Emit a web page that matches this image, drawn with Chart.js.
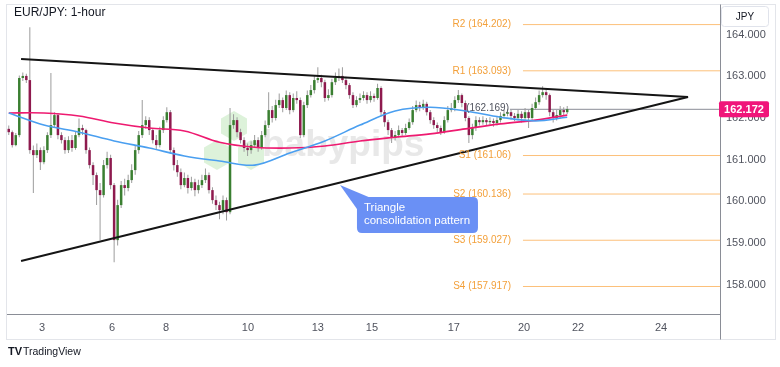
<!DOCTYPE html>
<html><head><meta charset="utf-8">
<script src="https://cdn.jsdelivr.net/npm/chart.js@4.4.1/dist/chart.umd.min.js"></script>
<style>html,body{margin:0;padding:0;background:#fff;}</style>
</head><body>
<canvas id="c" width="780" height="367"></canvas>
<script>
// ---- data ----
const tickIdx = [9.47, 29.4, 44.8, 68.1, 88.0, 103.4, 126.7, 146.7, 162.1, 185.7];
const tickLabels = ['3','6','8','10','13','15','17','20','22','24'];
const yTicks = [158,159,160,161,162,163,164];
const firstOpen = 161.70;
const closes = [
161.62,161.31,161.55,162.92,162.97,162.87,161.19,161.07,161.19,160.90,
161.19,161.55,161.79,162.03,161.55,161.43,161.19,161.43,161.24,161.55,
161.72,161.67,161.19,160.83,160.59,160.23,160.11,160.83,161.00,160.35,
159.03,159.87,160.35,160.28,160.47,160.71,161.19,161.55,161.79,161.91,
161.67,161.43,161.31,161.67,161.91,162.10,161.19,160.83,160.66,160.35,
160.52,160.28,160.42,160.23,160.35,160.47,160.59,160.23,159.99,159.87,
159.75,159.99,159.70,161.79,161.91,161.62,161.43,161.24,161.19,161.31,
161.43,161.24,161.55,161.79,162.15,161.96,162.27,162.39,162.20,162.51,
162.15,162.44,162.39,161.55,162.27,162.51,162.63,162.87,162.92,162.82,
162.44,162.51,162.82,162.92,162.97,162.87,162.75,162.51,162.27,162.39,
162.44,162.51,162.39,162.49,162.44,162.68,162.10,161.86,161.67,161.48,
161.55,161.67,161.60,161.72,161.86,162.15,162.27,162.20,162.30,162.10,
161.91,161.79,161.72,161.62,161.91,162.15,162.20,162.39,162.51,162.32,
161.96,161.55,161.72,161.91,161.86,161.91,161.86,161.89,161.84,161.91,
162.01,162.06,162.10,162.01,161.96,162.06,161.96,162.10,161.96,162.20,
162.34,162.51,162.58,162.51,162.10,161.96,162.03,162.15,162.10,162.172];
const highs = [
161.78,161.66,161.60,162.98,163.05,163.02,164.14,161.30,161.35,161.25,
161.28,161.62,163.04,162.10,162.08,161.62,161.50,161.52,161.55,161.65,
161.95,161.80,161.70,161.25,160.90,160.65,160.40,160.95,161.15,161.08,
160.40,160.00,160.45,160.50,160.60,160.85,161.30,161.65,162.39,162.00,
161.98,161.72,161.55,161.75,162.00,162.22,162.15,161.25,160.95,160.75,
160.65,160.60,160.55,160.50,160.48,160.60,160.75,160.65,160.30,160.10,
159.95,160.10,160.05,162.20,162.05,161.98,161.70,161.50,161.35,161.40,
161.55,161.50,161.65,161.90,162.58,162.25,162.40,162.55,162.45,162.62,
162.58,162.55,162.60,162.45,162.35,162.62,162.75,162.98,163.18,163.00,
162.88,162.65,162.90,163.05,163.15,163.18,162.95,162.80,162.58,162.48,
162.55,162.60,162.58,162.60,162.55,162.78,162.72,162.15,161.92,161.72,
161.65,161.78,161.72,161.82,161.95,162.25,162.38,162.35,162.40,162.35,
162.15,161.98,161.85,161.78,162.00,162.25,162.32,162.48,162.63,162.55,
162.38,162.00,161.82,162.00,161.98,162.00,161.96,161.98,161.95,162.00,
162.10,162.15,162.18,162.15,162.08,162.15,162.12,162.20,162.15,162.30,
162.45,162.62,162.72,162.65,162.55,162.15,162.15,162.25,162.22,162.25];
const lows = [
161.55,161.25,161.28,161.50,162.85,162.80,161.10,160.16,161.00,160.71,
160.85,161.12,161.48,161.72,161.45,161.35,161.10,161.12,161.15,161.20,
161.50,161.55,161.10,160.75,160.35,159.87,159.03,160.05,160.75,160.25,
158.50,158.90,159.80,160.10,160.20,160.40,160.60,161.10,161.48,161.70,
161.55,161.35,161.20,161.25,161.60,161.85,161.10,160.70,160.55,160.25,
160.30,160.15,160.22,160.08,160.15,160.28,160.40,160.15,159.90,159.75,
159.53,159.65,159.50,159.65,161.70,161.50,161.35,161.15,161.05,161.10,
161.25,161.15,161.20,161.50,161.72,161.85,161.90,162.20,162.10,162.15,
162.05,162.10,162.30,161.48,161.50,162.20,162.45,162.55,162.80,162.70,
162.35,162.38,162.45,162.75,162.85,162.80,162.65,162.42,162.20,162.22,
162.32,162.38,162.30,162.33,162.35,162.40,162.00,161.75,161.55,161.36,
161.42,161.50,161.52,161.55,161.68,161.80,162.10,162.12,162.15,162.02,
161.82,161.70,161.62,161.55,161.58,161.85,162.10,162.12,162.32,162.22,
161.88,161.36,161.45,161.65,161.78,161.80,161.78,161.80,161.75,161.78,
161.85,161.95,162.00,161.92,161.88,161.90,161.85,161.90,161.72,161.90,
162.15,162.28,162.45,162.40,162.00,161.85,161.90,161.95,162.02,162.05];
const maIndex = [0,10,20,30,40,50,60,70,80,90,100,110,120,130,140,150,159];
const ma100 = [162.08,161.79,161.62,161.41,161.24,161.05,160.93,160.83,161.12,161.41,161.79,162.13,162.22,162.13,161.98,161.89,161.98];
const ma200 = [162.08,162.08,162.01,161.84,161.72,161.65,161.38,161.26,161.24,161.29,161.41,161.50,161.58,161.70,161.82,161.91,162.03];
const pivotNames = ['R2','R1','S1','S2','S3','S4'];
const pivotValues = [164.202,163.093,161.06,160.136,159.027,157.917];
const pivotStart = 146.4;
const axisEnd = 202.5;
const triX = [3.5, 193.4];
const triUpper = [163.376, 162.464];
const triLower = [158.528, 162.464];
const hLineValue = 162.169;
const hLineStart = 142.7;
const lastPrice = 162.172;
const calloutAnchor = {x: 94.3, y: 160.352};
const calloutLines = ['Triangle', 'consolidation pattern'];

// ---- derived for library ----
const opens = closes.map((c,i)=> i===0 ? firstOpen : closes[i-1]);
const UP='#3a7f31', DOWN='#8e1a4e';
const wickData = closes.map((c,i)=>({x:i, y:[lows[i], highs[i]]}));
const bodyData = closes.map((c,i)=>({x:i, y:[Math.min(opens[i],c), Math.max(opens[i],c)]}));
const bodyColors = closes.map((c,i)=> c>=opens[i] ? UP : DOWN);
const FONT = '"Liberation Sans", Arial, sans-serif';

const datasets = [
  {type:'bar', data:wickData, backgroundColor:'#9c9c9c', maxBarThickness:1, grouped:false, order:5, borderWidth:0},
  {type:'bar', data:bodyData, backgroundColor:bodyColors, maxBarThickness:2.5, grouped:false, order:4, borderWidth:0, minBarLength:1},
  {type:'line', data:maIndex.map((x,i)=>({x, y:ma100[i]})), borderColor:'#4a9ff0', borderWidth:1.6, pointRadius:0, tension:0.35, order:3},
  {type:'line', data:maIndex.map((x,i)=>({x, y:ma200[i]})), borderColor:'#ee1a70', borderWidth:1.6, pointRadius:0, tension:0.35, order:3},
  {type:'line', data:triX.map((x,i)=>({x, y:triUpper[i]})), borderColor:'#151515', borderWidth:2, pointRadius:0, order:1},
  {type:'line', data:triX.map((x,i)=>({x, y:triLower[i]})), borderColor:'#151515', borderWidth:2, pointRadius:0, order:1},
  {type:'line', data:[{x:hLineStart,y:hLineValue},{x:axisEnd,y:hLineValue}], borderColor:'#8a8d96', borderWidth:1, pointRadius:0, order:6}
];
pivotValues.forEach(v=>{
  datasets.push({type:'line', data:[{x:pivotStart,y:v},{x:axisEnd,y:v}], borderColor:'#fcc07a', borderWidth:1, pointRadius:0, order:7});
});

function hex(ctx, cx, cy, r){
  ctx.beginPath();
  for(let k=0;k<6;k++){
    const a = Math.PI/180*(60*k-90);
    const px = cx + r*Math.cos(a), py = cy + r*Math.sin(a);
    k===0 ? ctx.moveTo(px,py) : ctx.lineTo(px,py);
  }
  ctx.closePath(); ctx.fill();
}
function rrect(ctx,x,y,w,h,r){
  ctx.beginPath();
  ctx.moveTo(x+r,y); ctx.lineTo(x+w-r,y); ctx.quadraticCurveTo(x+w,y,x+w,y+r);
  ctx.lineTo(x+w,y+h-r); ctx.quadraticCurveTo(x+w,y+h,x+w-r,y+h);
  ctx.lineTo(x+r,y+h); ctx.quadraticCurveTo(x,y+h,x,y+h-r);
  ctx.lineTo(x,y+r); ctx.quadraticCurveTo(x,y,x+r,y); ctx.closePath();
}

const decor = {
  id:'decor',
  beforeDatasetsDraw(chart){
    const ctx = chart.ctx, ca = chart.chartArea;
    ctx.save();
    // watermark
    ctx.fillStyle='rgba(150,215,140,0.32)';
    hex(ctx, ca.left+227, ca.top+120, 15);
    hex(ctx, ca.left+210, ca.top+149, 15);
    hex(ctx, ca.left+244, ca.top+149, 15);
    ctx.fillStyle='rgba(210,210,210,0.5)';
    ctx.font='bold 37px '+FONT;
    ctx.textBaseline='alphabetic';
    ctx.fillText('babypips', ca.left+255, ca.top+150);
    ctx.restore();
  },
  afterDatasetsDraw(chart){
    const ctx = chart.ctx, sx = chart.scales.x, sy = chart.scales.y;
    ctx.save();
    // pivot labels
    ctx.font='10px '+FONT; ctx.fillStyle='#f3a03a'; ctx.textAlign='right'; ctx.textBaseline='middle';
    const lx = sx.getPixelForValue(pivotStart) - 12;
    pivotNames.forEach((n,i)=>{
      ctx.fillText(n+' ('+pivotValues[i]+')', lx, sy.getPixelForValue(pivotValues[i]));
    });
    // horizontal line label
    ctx.fillStyle='#50535e';
    ctx.fillText('('+hLineValue+')', sx.getPixelForValue(hLineStart)-1, sy.getPixelForValue(hLineValue)-1);
    // callout
    const tx = sx.getPixelForValue(calloutAnchor.x), ty = sy.getPixelForValue(calloutAnchor.y);
    const bx = tx+17, by = ty+12, bw = 121, bh = 36;
    ctx.fillStyle='#6a90f5';
    ctx.beginPath(); ctx.moveTo(tx,ty); ctx.lineTo(bx+14,by+1); ctx.lineTo(bx,by+12); ctx.closePath(); ctx.fill();
    rrect(ctx,bx,by,bw,bh,5); ctx.fill();
    ctx.fillStyle='#ffffff'; ctx.font='11.5px '+FONT; ctx.textAlign='left'; ctx.textBaseline='middle';
    ctx.fillText(calloutLines[0], bx+7, by+11);
    ctx.fillText(calloutLines[1], bx+7, by+24);
    ctx.restore();
  },
  afterDraw(chart){
    const ctx = chart.ctx, ca = chart.chartArea, sy = chart.scales.y;
    ctx.save();
    // panel border
    ctx.strokeStyle='#e3e5ea'; ctx.lineWidth=1;
    ctx.strokeRect(6.5,4.5,769,335);
    // right axis divider full height
    ctx.strokeStyle='#8a8d96';
    ctx.beginPath(); ctx.moveTo(ca.right+0.5,4.5); ctx.lineTo(ca.right+0.5,339.5); ctx.stroke();
    // title
    ctx.fillStyle='#131722'; ctx.font='12px '+FONT; ctx.textBaseline='middle'; ctx.textAlign='left';
    ctx.fillText('EUR/JPY: 1-hour', 14, 13);
    // JPY box
    ctx.fillStyle='#ffffff'; rrect(ctx, ca.right+1.5, 6.5, 47, 20, 3); ctx.fill();
    ctx.strokeStyle='#e0e3eb'; ctx.stroke();
    ctx.fillStyle='#131722'; ctx.font='10px '+FONT; ctx.textAlign='center';
    ctx.fillText('JPY', ca.right+25, 17);
    // last price box
    const py = sy.getPixelForValue(lastPrice);
    ctx.fillStyle='#f0157a';
    rrect(ctx, ca.right-1, py-8, 50, 16, 2); ctx.fill();
    ctx.fillStyle='#ffffff'; ctx.font='bold 11px '+FONT; ctx.textAlign='center';
    ctx.fillText(lastPrice.toFixed(3), ca.right+24, py+0.5);
    // TradingView logo
    ctx.fillStyle='#131722'; ctx.textAlign='left';
    ctx.font='bold 11px '+FONT; ctx.fillText('TV', 8, 352);
    ctx.font='10.5px '+FONT; ctx.fillText('TradingView', 23, 352);
    ctx.restore();
  }
};

new Chart(document.getElementById('c'), {
  type:'bar',
  data:{datasets},
  options:{
    responsive:false, animation:false, devicePixelRatio:1,
    layout:{padding:{left:7,right:5,top:6,bottom:28}},
    plugins:{legend:{display:false}, tooltip:{enabled:false}, title:{display:false}},
    scales:{
      x:{type:'linear', min:-0.5, max:axisEnd, offset:false,
        grid:{display:false, drawTicks:false},
        border:{display:true, color:'#8a8d96'},
        afterBuildTicks:s=>{ s.ticks = tickIdx.map(v=>({value:v})); },
        afterFit:s=>{ s.height = 25; s.paddingLeft = 0; s.paddingRight = 0; },
        ticks:{autoSkip:false, maxRotation:0, padding:7, color:'#50535e', font:{family:FONT, size:11},
          callback:(v,i)=>tickLabels[i]}
      },
      y:{position:'right', min:157.257, max:164.648,
        grid:{display:false, drawTicks:false},
        border:{display:true, color:'#8a8d96'},
        afterBuildTicks:s=>{ s.ticks = yTicks.map(v=>({value:v})); },
        afterFit:s=>{ s.width = 55; s.paddingTop = 0; s.paddingBottom = 0; },
        ticks:{padding:6, labelOffset:1.5, color:'#50535e', font:{family:FONT, size:11}, callback:v=>Number(v).toFixed(3)}
      }
    }
  },
  plugins:[decor]
});
</script>
</body></html>
